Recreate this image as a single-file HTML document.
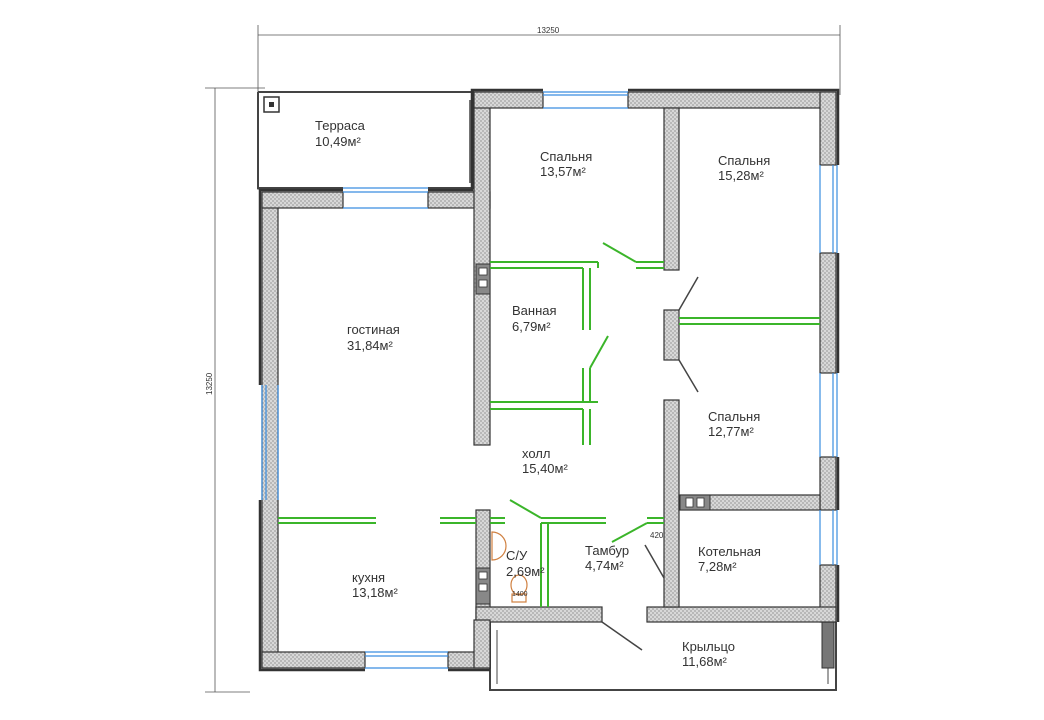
<!DOCTYPE html>
<html><head><meta charset="utf-8"><style>
html,body{margin:0;padding:0;background:#fff;}
svg{display:block;}
text{font-family:"Liberation Sans",sans-serif;fill:#333;}
</style></head><body>
<svg width="1044" height="720" viewBox="0 0 1044 720" xmlns="http://www.w3.org/2000/svg">
<defs>
<pattern id="h" width="4" height="4" patternUnits="userSpaceOnUse">
<rect width="4" height="4" fill="#d8d8d8"/><rect width="2" height="2" fill="#b8b8b8"/><rect x="2" y="2" width="2" height="2" fill="#b8b8b8"/>
</pattern>
</defs>
<g stroke="#555" stroke-width="0.8" fill="none">
<line x1="258" y1="35" x2="840" y2="35"/>
<line x1="258" y1="25" x2="258" y2="190"/>
<line x1="840" y1="25" x2="840" y2="95"/>
<line x1="215" y1="88" x2="215" y2="692"/>
<line x1="205" y1="88" x2="265" y2="88"/>
<line x1="205" y1="692" x2="250" y2="692"/>
</g>
<text x="537" y="33" font-size="8">13250</text>
<text x="0" y="0" font-size="8" transform="translate(212,395) rotate(-90)">13250</text>

<g stroke="#444" stroke-width="2" fill="none">
<path d="M258 92 H474 M258 92 V188 H343 M428 188 H474 V92"/>
<path d="M470 100 V183" stroke-width="1.5"/>
</g>
<rect x="264" y="97" width="15" height="15" fill="#fff" stroke="#333" stroke-width="1.5"/>
<rect x="269" y="102" width="5" height="5" fill="#333"/>

<g stroke="#444" stroke-width="2" fill="none">
<path d="M490 622 V690 H836 V622"/>
<path d="M497 630 V684 M828 630 V684" stroke-width="1"/>
</g>
<rect x="822" y="622" width="12" height="46" fill="#777" stroke="#333"/>

<g fill="url(#h)" stroke="#333" stroke-width="1.2">
<rect x="262" y="192" width="16" height="476"/>
<rect x="262" y="192" width="81" height="16"/>
<rect x="428" y="192" width="62" height="16"/>
<rect x="474" y="92" width="16" height="353"/>
<rect x="474" y="92" width="69" height="16"/>
<rect x="628" y="92" width="208" height="16"/>
<rect x="820" y="92" width="16" height="73"/>
<rect x="820" y="253" width="16" height="120"/>
<rect x="820" y="457" width="16" height="53"/>
<rect x="820" y="565" width="16" height="57"/>
<rect x="262" y="652" width="103" height="16"/>
<rect x="448" y="652" width="42" height="16"/>
<rect x="476" y="510" width="14" height="112"/>
<rect x="476" y="607" width="126" height="15"/>
<rect x="474" y="620" width="16" height="48"/>
<rect x="647" y="607" width="189" height="15"/>
<rect x="664" y="108" width="15" height="162"/>
<rect x="664" y="310" width="15" height="50"/>
<rect x="664" y="400" width="15" height="207"/>
<rect x="679" y="495" width="141" height="15"/>
</g>
<!-- outer dark outline -->
<g stroke="#333" stroke-width="2.5" fill="none">
<path d="M260 385 V190 H343 M428 190 H472 V90 H543 M628 90 H838 V165 M838 253 V373 M838 457 V510 M838 565 V622"/>
<path d="M260 500 V670 H365 M448 670 H490"/>
</g>
<g fill="#888" stroke="#333">
<rect x="476" y="264" width="14" height="30"/>
<rect x="476" y="568" width="14" height="36"/>
<rect x="680" y="495" width="30" height="15"/>
</g>
<g fill="#fff" stroke="#333" stroke-width="0.8">
<rect x="479" y="268" width="8" height="7"/><rect x="479" y="280" width="8" height="7"/>
<rect x="479" y="572" width="8" height="7"/><rect x="479" y="584" width="8" height="7"/>
<rect x="686" y="498" width="7" height="9"/><rect x="697" y="498" width="7" height="9"/>
</g>

<g stroke="#3a8ee0" stroke-width="1.2" fill="none">
<path d="M343 188 H428 M343 192 H428 M343 208 H428"/>
<path d="M543 92 H628 M543 95 H628 M543 108 H628"/>
<path d="M262 385 V500 M266 385 V500 M278 385 V500"/>
<path d="M365 652 H448 M365 656 H448 M365 668 H448"/>
<path d="M820 165 V253 M833 165 V253 M837 165 V253"/>
<path d="M820 373 V457 M833 373 V457 M837 373 V457"/>
<path d="M820 510 V565 M833 510 V565 M837 510 V565"/>
</g>

<g stroke="#3bb52a" stroke-width="2" fill="none">
<path d="M490 262 H598 M490 268 H583 M583 268 V330 M590 268 V330 M598 262 V268"/>
<path d="M490 402 H598 M490 409 H583 M583 409 V445 M590 409 V445 M583 368 V402 M590 368 V402 M590 368 L608 336"/>
<path d="M603 243 L636 262 M636 262 H664 M636 268 H664"/>
<path d="M679 318 H820 M679 324 H820"/>
<path d="M278 518 H376 M278 523 H376"/>
<path d="M440 518 H476 M440 523 H476 M490 518 H505 M490 523 H505"/>
<path d="M541 518 H606 M541 523 H606 M541 523 V607 M548 523 V607"/>
<path d="M510 500 L541 518"/>
<path d="M647 518 H664 M647 523 H664 M647 523 L612 542"/>
</g>
<g stroke="#444" stroke-width="1.5" fill="none">
<path d="M679 310 L698 277"/>
<path d="M679 360 L698 392"/>
<path d="M645 545 L664 578"/>
<path d="M602 622 L642 650"/>
</g>
<g stroke="#d08040" stroke-width="1.2" fill="none">
<path d="M492 532 A14 14 0 0 1 492 560 Z"/>
<ellipse cx="519" cy="585" rx="8" ry="10"/>
<rect x="512" y="594" width="14" height="8"/>
</g>
<text x="512" y="596" font-size="7">1400</text>
<text x="650" y="538" font-size="8">420</text>

<g font-size="13">
<text x="315" y="130">Терраса</text><text x="315" y="146">10,49м²</text>
<text x="540" y="161">Спальня</text><text x="540" y="176">13,57м²</text>
<text x="718" y="165">Спальня</text><text x="718" y="180">15,28м²</text>
<text x="512" y="315">Ванная</text><text x="512" y="331">6,79м²</text>
<text x="347" y="334">гостиная</text><text x="347" y="350">31,84м²</text>
<text x="708" y="421">Спальня</text><text x="708" y="436">12,77м²</text>
<text x="522" y="458">холл</text><text x="522" y="473">15,40м²</text>
<text x="506" y="560">С/У</text><text x="506" y="576">2,69м²</text>
<text x="585" y="555">Тамбур</text><text x="585" y="570">4,74м²</text>
<text x="698" y="556">Котельная</text><text x="698" y="571">7,28м²</text>
<text x="352" y="582">кухня</text><text x="352" y="597">13,18м²</text>
<text x="682" y="651">Крыльцо</text><text x="682" y="666">11,68м²</text>
</g>
</svg>
</body></html>
